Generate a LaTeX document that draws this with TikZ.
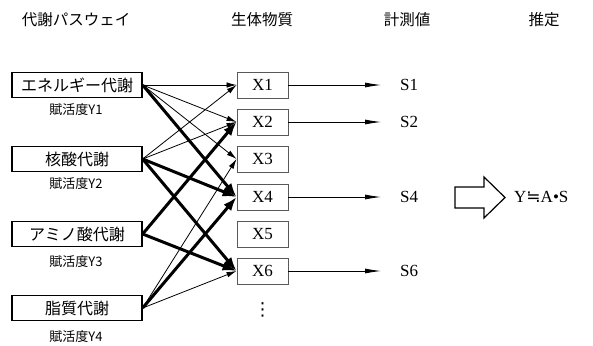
\documentclass[tikz,border=0pt]{standalone}
\usepackage{fontspec}
\setmainfont{Liberation Serif}
\newfontfamily\jp{Noto Sans CJK JP}
\newfontfamily\symfont{DejaVu Sans}
\usetikzlibrary{arrows.meta}
\tikzset{
  title/.style={font=\jp\fontsize{15.5}{15.5}\selectfont, inner sep=0pt},
  pathbox/.style={draw=black, line width=1.3pt, minimum width=130pt, minimum height=25pt,
    inner sep=0pt, font=\jp\fontsize{16}{16}\selectfont},
  rate/.style={font=\jp\fontsize{13}{13}\selectfont, inner sep=0pt},
  xbox/.style={draw=black!65, line width=0.9pt, minimum width=51pt, minimum height=26pt,
    inner sep=0pt, font=\fontsize{17}{17}\selectfont},
  slabel/.style={font=\fontsize{17}{17}\selectfont, inner sep=0pt, anchor=west},
  weak/.style={line width=0.8pt, -{Latex[length=10pt,width=5.5pt]}},
  strong/.style={line width=3pt, -{Latex[length=14pt,width=10pt]}},
  meas/.style={line width=0.8pt, -{Latex[length=16pt,width=5pt]}},
}
\begin{document}
\begin{tikzpicture}[x=1pt,y=-1pt]
\useasboundingbox (0,0) rectangle (593,345);

% column headings
\node[title] (h1) at (76,20) {代謝パスウェイ};
\node[title] (h2) at (262,20) {生体物質};
\node[title] (h3) at (407,20) {計測値};
\node[title] (h4) at (544,20) {推定};

% metabolic pathways with their activation degrees
\node[pathbox] (E) at (77,85)  {エネルギー代謝};
\node[pathbox] (N) at (77,159) {核酸代謝};
\node[pathbox] (A) at (77,234) {アミノ酸代謝};
\node[pathbox] (L) at (77,308) {脂質代謝};
\node[rate] (yE) at (76,110) {賦活度Y1};
\node[rate] (yN) at (76,184) {賦活度Y2};
\node[rate] (yA) at (76,262) {賦活度Y3};
\node[rate] (yL) at (76,337) {賦活度Y4};

% biological substances
\node[xbox] (X1) at (262.5,85)  {X1};
\node[xbox] (X2) at (262.5,122) {X2};
\node[xbox] (X3) at (262.5,159) {X3};
\node[xbox] (X4) at (262.5,197) {X4};
\node[xbox] (X5) at (262.5,234) {X5};
\node[xbox] (X6) at (262.5,271) {X6};
\node[inner sep=0pt, font=\symfont\fontsize{18}{18}\selectfont] (dots) at (262.5,310) {⋮};

% pathway -> substance links
\draw[weak]   (E.east) -- (X1.west);
\draw[weak]   (E.east) -- (X2.west);
\draw[weak]   (E.east) -- (X3.west);
\draw[strong] (E.east) -- (X4.west);
\draw[weak]   (N.east) -- (X1.west);
\draw[weak]   (N.east) -- (X2.west);
\draw[strong] (N.east) -- (X4.west);
\draw[strong] (N.east) -- (X6.west);
\draw[strong] (A.east) -- (X2.west);
\draw[strong] (A.east) -- (X6.west);
\draw[weak]   (L.east) -- (X3.west);
\draw[strong] (L.east) -- (X4.west);
\draw[weak]   (L.east) -- (X6.west);

% measured values
\node[slabel] (S1) at (400,85)  {S1};
\node[slabel] (S2) at (400,122) {S2};
\node[slabel] (S4) at (400,197) {S4};
\node[slabel] (S6) at (400,271) {S6};
\draw[meas] (X1.east) -- ([xshift=-19pt]S1.west);
\draw[meas] (X2.east) -- ([xshift=-19pt]S2.west);
\draw[meas] (X4.east) -- ([xshift=-19pt]S4.west);
\draw[meas] (X6.east) -- ([xshift=-19pt]S6.west);

% estimation
\draw[line width=1.2pt, line join=miter]
  (455,187) -- (484,187) -- (484,177) -- (505,197.5) -- (484,218) -- (484,208) -- (455,208) -- cycle;
\node[inner sep=0pt, anchor=west, font=\fontsize{17}{17}\selectfont] (est) at (514,197)
  {Y{\symfont ≒}A•S};
\end{tikzpicture}
\end{document}
